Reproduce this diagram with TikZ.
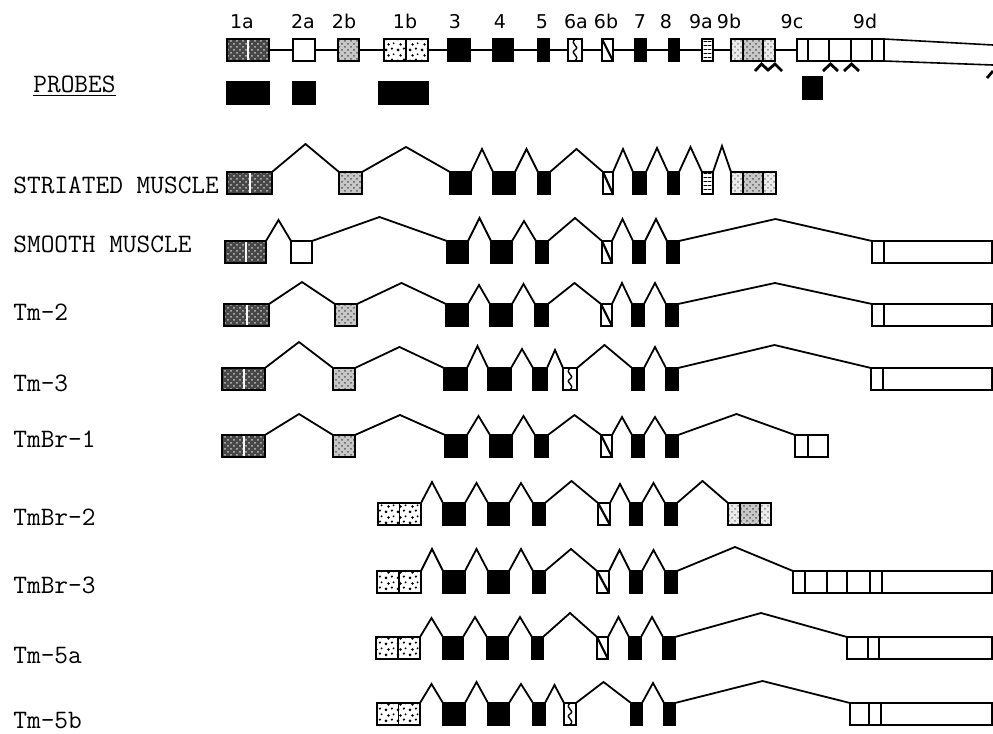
\documentclass[tikz,border=0pt]{standalone}
\usepackage{fontspec}
\newfontfamily\exfont{DejaVu Sans}
\usetikzlibrary{patterns,calc}

\pgfdeclarepatternformonly{blobs}{\pgfqpoint{0pt}{0pt}}{\pgfqpoint{6pt}{5.5pt}}{\pgfqpoint{6pt}{5.5pt}}{%
  \pgfpathcircle{\pgfqpoint{1.1pt}{1.1pt}}{0.8pt}%
  \pgfpathcircle{\pgfqpoint{4.2pt}{1.8pt}}{0.65pt}%
  \pgfpathcircle{\pgfqpoint{2.4pt}{4pt}}{0.7pt}%
  \pgfpathcircle{\pgfqpoint{5.1pt}{4.6pt}}{0.55pt}%
  \pgfusepath{fill}}
\pgfdeclarepatternformonly{hstripes}{\pgfqpoint{0pt}{0pt}}{\pgfqpoint{2pt}{2.2pt}}{\pgfqpoint{2pt}{2.2pt}}{%
  \pgfpathrectangle{\pgfqpoint{0pt}{0pt}}{\pgfqpoint{2pt}{0.55pt}}%
  \pgfusepath{fill}}

\tikzset{
  exon/.style={draw,line width=0.9pt,inner sep=0pt,outer sep=0pt,minimum height=11pt,anchor=north west},
  exB/.style={fill=black},
  exW/.style={fill=white},
  ex1a/.style={preaction={fill=black!72},pattern=crosshatch dots,pattern color=black!25,
    path picture={\draw[white,line width=1pt] (path picture bounding box.north) -- (path picture bounding box.south);}},
  ex2b/.style={preaction={fill=black!22},pattern=crosshatch dots,pattern color=black!65},
  exS/.style={preaction={fill=black!8},pattern=crosshatch dots,pattern color=black!45},
  ex1b/.style={preaction={fill=white},pattern=blobs,pattern color=black,
    path picture={\draw[line width=0.8pt] (path picture bounding box.north) -- (path picture bounding box.south);}},
  ex6a/.style={fill=white,path picture={\draw[line width=0.7pt] (path picture bounding box.north)
    .. controls +(-3pt,-3pt) and +(3pt,2pt) .. (path picture bounding box.center)
    .. controls +(-3pt,-2pt) and +(3pt,3pt) .. (path picture bounding box.south);}},
  ex6b/.style={fill=white,path picture={\draw[line width=1.1pt] (path picture bounding box.north west) -- (path picture bounding box.south east);}},
  ex9a/.style={preaction={fill=white},pattern=hstripes},
  intron/.style={line width=0.9pt},
  backbone/.style={line width=0.8pt},
  caret/.style={line width=1.4pt},
  exlab/.style={font=\exfont\fontsize{9.5pt}{11pt}\selectfont,inner sep=0pt,anchor=base},
  rowlab/.style={font=\ttfamily\fontsize{13.3pt}{15pt}\selectfont,inner sep=0pt,anchor=base west}
}

\newcommand\exon[5][exW]{\node[exon,#1,minimum width={(#4-#3)*0.5pt}] (#2) at (#3,#5) {};}
\newcommand\intron[3]{\draw[intron] (#1.north east) -- ($(#1.north east)!.5!(#2.north west)+(0,-#3)$) -- (#2.north west);}

\begin{document}
\begin{tikzpicture}[x=0.5pt,y=-0.5pt]
  \useasboundingbox (0,0) rectangle (993,734);

  % gene map
  \foreach \n/\x in {1a/242,2a/303,2b/344,1b/405,3/455,4/500,5/542,6a/576,6b/606,7/640,8/666,9a/701,9b/729,9c/792,9d/865}
    \node[exlab] (lab-\n) at (\x,28) {\n};
  \foreach \n/\a/\b/\s in {1a/227/269/ex1a,2a/293/315/exW,2b/338/359/ex2b,1b/384/428/ex1b,3/448/470/exB,4/493/513/exB,5/538/549/exB,6a/568/582/ex6a,6b/602/613/ex6b,7/635/646/exB,8/669/679/exB,9a/702/713/ex9a,9b/731/743/exS,9bm/743/763/ex2b,9br/763/775/exS,c1/797/808/exW,c2/808/829/exW,c3/829/851/exW,c4/851/872/exW,c5/872/884/exW}
    \exon[\s]{g-\n}{\a}{\b}{39};
  \foreach \p/\q in {1a/2a,2a/2b,2b/1b,1b/3,3/4,4/5,5/6a,6a/6b,6b/7,7/8,8/9a,9a/9b,9br/c1}
    \draw[backbone] (g-\p) -- (g-\q);
  \coordinate (tail-t) at (993,45);
  \coordinate (tail-b) at (993,65);
  \draw[backbone] (g-c5.north east) -- (tail-t);
  \draw[backbone] (g-c5.south east) -- (tail-b);
  \draw[caret] (755,71) -- (761.5,64) -- (768,70) -- (775,64) -- (782,71);
  \draw[caret] (823,71) -- (830.5,64) -- (838,71);
  \draw[caret] (844,71) -- (851.5,64) -- (859,71);
  \draw[caret] (987,78) -- (993,71);

  % probes
  \node[rowlab] (probes) at (33,92) {\underline{PROBES}};
  \foreach \n/\a/\b/\t in {1/227/269/82,2/293/315/82,3/379/428/82,4/803/822/77}
    \exon[exB]{pr\n}{\a}{\b}{\t};

  % striated muscle
  \node[rowlab] (l-st) at (13,193) {STRIATED MUSCLE};
  \foreach \n/\a/\b/\s in {1a/227/272/ex1a,2b/339/362/ex2b,3/450/471/exB,4/493/515/exB,5/538/550/exB,6b/603/613/ex6b,7/633/646/exB,8/668/679/exB,9a/702/713/ex9a,9b/731/743/exS,9bm/743/763/ex2b,9br/763/776/exS}
    \exon[\s]{st-\n}{\a}{\b}{172};
  \foreach \p/\q/\h in {1a/2b/28,2b/3/25,3/4/23,4/5/23,5/6b/23,6b/7/23,7/8/24,8/9a/25,9a/9b/26}
    \intron{st-\p}{st-\q}{\h};

  % smooth muscle
  \node[rowlab] (l-sm) at (13,252) {SMOOTH MUSCLE};
  \foreach \n/\a/\b/\s in {1a/225/266/ex1a,2a/291/312/exW,3/447/468/exB,4/491/512/exB,5/536/548/exB,6b/602/612/ex6b,7/633/645/exB,8/667/679/exB,9d/872/884/exW,utr/884/992/exW}
    \exon[\s]{sm-\n}{\a}{\b}{241};
  \foreach \p/\q/\h in {1a/2a/21,2a/3/24,3/4/23,4/5/20,5/6b/23,6b/7/22,7/8/22,8/9d/22}
    \intron{sm-\p}{sm-\q}{\h};

  % Tm-2
  \node[rowlab] (l-t2) at (13,320) {Tm-2};
  \foreach \n/\a/\b/\s in {1a/224/269/ex1a,2b/335/357/ex2b,3/446/468/exB,4/490/512/exB,5/535/548/exB,6b/601/612/ex6b,7/632/644/exB,8/666/678/exB,9d/872/884/exW,utr/884/992/exW}
    \exon[\s]{t2-\n}{\a}{\b}{304};
  \foreach \p/\q/\h in {1a/2b/22,2b/3/21,3/4/19,4/5/20,5/6b/21,6b/7/21,7/8/21,8/9d/21}
    \intron{t2-\p}{t2-\q}{\h};

  % Tm-3
  \node[rowlab] (l-t3) at (13,391) {Tm-3};
  \foreach \n/\a/\b/\s in {1a/222/265/ex1a,2b/333/355/ex2b,3/444/467/exB,4/488/511/exB,5/533/547/exB,6a/563/577/ex6a,7/632/644/exB,8/666/678/exB,9d/871/883/exW,utr/883/992/exW}
    \exon[\s]{t3-\n}{\a}{\b}{368};
  \foreach \p/\q/\h in {1a/2b/26,2b/3/21,3/4/22,4/5/19,5/6a/18,6a/7/23,7/8/21,8/9d/23}
    \intron{t3-\p}{t3-\q}{\h};

  % TmBr-1
  \node[rowlab] (l-b1) at (13,447) {TmBr-1};
  \foreach \n/\a/\b/\s in {1a/222/265/ex1a,2b/333/355/ex2b,3/445/467/exB,4/490/512/exB,5/535/548/exB,6b/601/612/ex6b,7/632/644/exB,8/666/678/exB,9c/795/808/exW,9cr/808/828/exW}
    \exon[\s]{b1-\n}{\a}{\b}{435};
  \foreach \p/\q/\h in {1a/2b/21,2b/3/20,3/4/19,4/5/19,5/6b/20,6b/7/18,7/8/18,8/9c/21}
    \intron{b1-\p}{b1-\q}{\h};

  % TmBr-2
  \node[rowlab] (l-b2) at (13,525) {TmBr-2};
  \foreach \n/\a/\b/\s in {1b/378/421/ex1b,3/443/465/exB,4/488/509/exB,5/533/545/exB,6b/598/610/ex6b,7/630/642/exB,8/665/677/exB,9b/728/740/exS,9bm/740/760/ex2b,9br/760/771/exS}
    \exon[\s]{b2-\n}{\a}{\b}{503};
  \foreach \p/\q/\h in {1b/3/21,3/4/20,4/5/20,5/6b/22,6b/7/19,7/8/20,8/9b/22}
    \intron{b2-\p}{b2-\q}{\h};

  % TmBr-3
  \node[rowlab] (l-b3) at (13,593) {TmBr-3};
  \foreach \n/\a/\b/\s in {1b/377/421/ex1b,3/443/465/exB,4/488/509/exB,5/533/545/exB,6b/597/609/ex6b,7/630/642/exB,8/665/677/exB,c1/793/805/exW,c2/805/827/exW,c3/827/847/exW,c4/847/870/exW,c5/870/882/exW,utr/882/992/exW}
    \exon[\s]{b3-\n}{\a}{\b}{571};
  \foreach \p/\q/\h in {1b/3/22,3/4/22,4/5/22,5/6b/22,6b/7/21,7/8/21,8/c1/24}
    \intron{b3-\p}{b3-\q}{\h};

  % Tm-5a
  \node[rowlab] (l-t5a) at (13,663) {Tm-5a};
  \foreach \n/\a/\b/\s in {1b/376/420/ex1b,3/443/463/exB,4/487/508/exB,5/532/543/exB,6b/597/608/ex6b,7/629/641/exB,8/663/675/exB,c1/847/868/exW,c2/868/879/exW,utr/879/992/exW}
    \exon[\s]{t5a-\n}{\a}{\b}{637};
  \foreach \p/\q/\h in {1b/3/19,3/4/20,4/5/20,5/6b/24,6b/7/20,7/8/20,8/c1/24}
    \intron{t5a-\p}{t5a-\q}{\h};

  % Tm-5b
  \node[rowlab] (l-t5b) at (13,728) {Tm-5b};
  \foreach \n/\a/\b/\s in {1b/377/420/ex1b,3/443/465/exB,4/488/509/exB,5/533/545/exB,6a/564/576/ex6a,7/631/642/exB,8/664/675/exB,c1/850/869/exW,c2/869/881/exW,utr/881/992/exW}
    \exon[\s]{t5b-\n}{\a}{\b}{703};
  \foreach \p/\q/\h in {1b/3/19,3/4/21,4/5/19,5/6a/18,6a/7/21,7/8/20,8/c1/22}
    \intron{t5b-\p}{t5b-\q}{\h};
\end{tikzpicture}
\end{document}
